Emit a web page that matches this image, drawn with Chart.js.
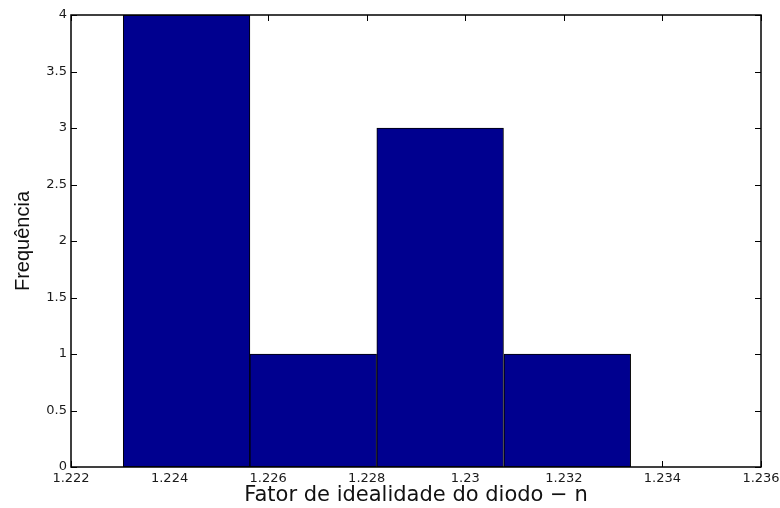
<!DOCTYPE html>
<html>
<head>
<meta charset="utf-8">
<script src="https://cdn.jsdelivr.net/npm/chart.js@4.4.1/dist/chart.umd.min.js"></script>
<style>
  body { margin: 0; background: #fff; }
  #wrap { width: 780px; height: 508px; }
</style>
</head>
<body>
<div id="wrap"><canvas id="myChart" width="780" height="508"></canvas></div>
<script>
// histogram data
const binEdges = [1.22306, 1.22563, 1.2282, 1.23078, 1.23336];
const counts = [4, 1, 3, 1];

const xTickValues = [1.222, 1.224, 1.226, 1.228, 1.23, 1.232, 1.234, 1.236];
const xTickLabels = ["1.222", "1.224", "1.226", "1.228", "1.23", "1.232", "1.234", "1.236"];
const yTickValues = [0, 0.5, 1, 1.5, 2, 2.5, 3, 3.5, 4];
const yTickLabels = ["0", "0.5", "1", "1.5", "2", "2.5", "3", "3.5", "4"];

const xTitle = "Fator de idealidade do diodo \u2212 n";
const yTitle = "Frequência";

// bar centres from the bin edges
const bars = counts.map((c, i) => ({ x: (binEdges[i] + binEdges[i + 1]) / 2, y: c }));

// matlab style box + inward ticks
const axesBox = {
  id: "axesBox",
  beforeDatasetsDraw(chart) {
    const { ctx, chartArea: a, scales } = chart;
    const x = scales.x;
    const y = scales.y;
    ctx.save();
    ctx.strokeStyle = "#000";
    ctx.lineWidth = 1;
    ctx.beginPath();
    xTickValues.forEach((v) => {
      const px = Math.round(x.getPixelForValue(v)) + 0.5;
      ctx.moveTo(px, a.bottom);
      ctx.lineTo(px, a.bottom - 6);
      ctx.moveTo(px, a.top);
      ctx.lineTo(px, a.top + 6);
    });
    yTickValues.forEach((v) => {
      const py = Math.round(y.getPixelForValue(v)) + 0.5;
      ctx.moveTo(a.left, py);
      ctx.lineTo(a.left + 6, py);
      ctx.moveTo(a.right, py);
      ctx.lineTo(a.right - 6, py);
    });
    ctx.stroke();
    ctx.restore();
  },
  afterDatasetsDraw(chart) {
    const { ctx, chartArea: a } = chart;
    ctx.save();
    ctx.strokeStyle = "#000";
    ctx.lineWidth = 1.5;
    ctx.strokeRect(a.left, a.top, a.right - a.left, a.bottom - a.top);
    ctx.restore();
  },
};

const tickFont = { family: "DejaVu Sans", size: 13 };

new Chart(document.getElementById("myChart").getContext("2d"), {
  type: "bar",
  data: {
    datasets: [
      {
        label: "Frequência",
        data: bars,
        xAxisID: "xb",
        backgroundColor: "#00008F",
        borderColor: "#000",
        borderWidth: 1,
        borderSkipped: false,
        barPercentage: 1,
        categoryPercentage: 1,
      },
    ],
  },
  options: {
    responsive: false,
    animation: false,
    layout: { padding: { top: 15, right: 19, bottom: 0, left: 0 } },
    plugins: { legend: { display: false }, tooltip: { enabled: false } },
    scales: {
      // hidden axis for the bars so the width follows the bins, not the ticks
      xb: {
        type: "linear",
        display: false,
        offset: false,
        min: 1.222,
        max: 1.236,
        afterBuildTicks: (s) => { s.ticks = []; },
      },
      x: {
        type: "linear",
        position: "bottom",
        offset: false,
        min: 1.222,
        max: 1.236,
        afterBuildTicks: (s) => { s.ticks = xTickValues.map((v) => ({ value: v })); },
        afterFit: (s) => { s.height = 41; s.paddingRight = 0; },
        grid: { display: false, drawTicks: false, offset: false },
        border: { display: false },
        ticks: {
          padding: 4,
          maxRotation: 0,
          autoSkip: false,
          color: "#1a1a1a",
          font: tickFont,
          callback: (v, i) => xTickLabels[i],
        },
        title: {
          display: true,
          text: xTitle,
          color: "#111",
          font: { family: "DejaVu Sans", size: 21 },
          padding: { top: 0, bottom: 0 },
        },
      },
      y: {
        min: 0,
        max: 4,
        afterBuildTicks: (s) => { s.ticks = yTickValues.map((v) => ({ value: v })); },
        afterFit: (s) => { s.width = 71; },
        grid: { display: false, drawTicks: false },
        border: { display: false },
        ticks: {
          padding: 4,
          autoSkip: false,
          color: "#1a1a1a",
          font: tickFont,
          callback: (v, i) => yTickLabels[i],
        },
        title: {
          display: true,
          text: yTitle,
          color: "#111",
          font: { family: "Liberation Sans", size: 20 },
          padding: { top: 11, bottom: 0 },
        },
      },
    },
  },
  plugins: [axesBox],
});
</script>
</body>
</html>
